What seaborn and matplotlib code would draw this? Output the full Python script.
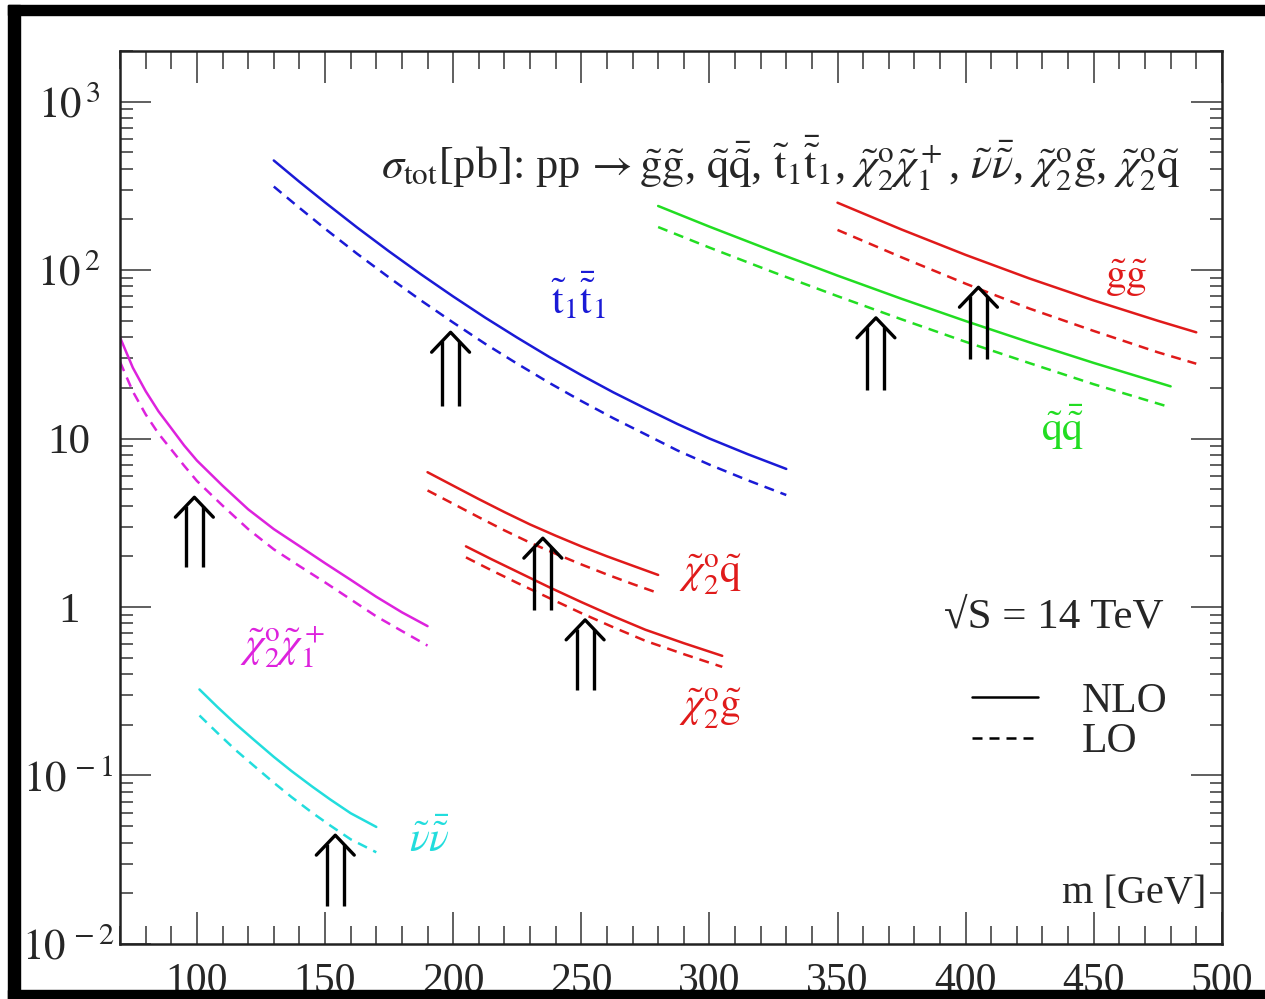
import numpy as np
import pandas as pd
import seaborn as sns
import matplotlib.pyplot as plt
from matplotlib.lines import Line2D
from matplotlib.patches import Rectangle
from matplotlib.ticker import FixedLocator, FixedFormatter, MultipleLocator, LogLocator, NullFormatter

# cross sections [pb], NLO (solid) and LO (dashed)
m_chi2chi1 = [70, 75, 80, 85, 90, 95, 100, 110, 120, 130, 140, 150, 160, 170, 180, 190]
nlo_chi2chi1 = [39.8, 26.3, 19.1, 14.5, 11.5, 9.1, 7.4, 5.25, 3.8, 2.9, 2.3, 1.82, 1.45, 1.15, 0.93, 0.77]
lo_chi2chi1 = [28.5, 19.0, 13.9, 10.7, 8.6, 6.9, 5.6, 4.0, 2.9, 2.2, 1.75, 1.4, 1.11, 0.88, 0.72, 0.59]

m_stop = [130, 140, 150, 162.5, 175, 187.5, 200, 212.5, 225, 237.5, 250, 262.5, 275, 287.5, 300, 315, 330]
nlo_stop = [447, 334, 252, 179, 129, 94.2, 69.7, 52.2, 39.7, 30.5, 23.8, 18.8, 15.1, 12.2, 10.0, 8.07, 6.6]
lo_stop = [313, 234, 176, 125, 90.3, 65.9, 48.8, 36.5, 27.8, 21.4, 16.7, 13.2, 10.6, 8.5, 7.0, 5.65, 4.62]

m_sqsq = [280, 300, 325, 350, 375, 400, 425, 450, 480]
nlo_sqsq = [240, 181, 129, 92.7, 67.5, 49.8, 37.2, 28.1, 20.4]
lo_sqsq = [180, 136, 97, 70, 51, 37.5, 28, 21, 15.3]

m_gg = [350, 375, 400, 425, 450, 475, 490]
nlo_gg = [251, 174, 123, 89, 66, 50, 42.7]
lo_gg = [173, 119, 83, 59, 43.5, 32.5, 27.8]

m_chi2sq = [190, 200, 210, 220, 230, 240, 250, 260, 270, 280]
nlo_chi2sq = [6.31, 5.25, 4.37, 3.66, 3.09, 2.65, 2.29, 2.0, 1.76, 1.55]
lo_chi2sq = [4.92, 4.1, 3.41, 2.85, 2.41, 2.07, 1.79, 1.56, 1.37, 1.21]

m_chi2gl = [205, 215, 225, 237.5, 250, 262.5, 275, 290, 305]
nlo_chi2gl = [2.29, 1.92, 1.62, 1.31, 1.07, 0.881, 0.733, 0.61, 0.513]
lo_chi2gl = [1.97, 1.65, 1.39, 1.13, 0.92, 0.758, 0.63, 0.525, 0.441]

m_snu = [101, 108, 115, 122, 130, 137, 145, 152, 160, 170]
nlo_snu = [0.324, 0.255, 0.203, 0.164, 0.129, 0.106, 0.0859, 0.0721, 0.0597, 0.0495]
lo_snu = [0.227, 0.179, 0.142, 0.115, 0.0906, 0.0743, 0.0601, 0.0505, 0.0418, 0.0350]

# arrows: mass, tip, base
arrow_m = [99, 199, 365, 405, 235, 251.5, 154]
arrow_tip = [4.48, 42.7, 52, 79, 2.56, 0.838, 0.0442]
arrow_base = [1.73, 15.6, 19.5, 29.7, 0.96, 0.323, 0.0168]

ytick_vals = [1e-2, 1e-1, 1, 10, 1e2, 1e3]
ytick_labels = [r"$10^{\,-2}$", r"$10^{\,-1}$", "1", "10", r"$10^{\,2}$", r"$10^{\,3}$"]

colors = {"chi2chi1": "#dd22dd", "stop": "#1a1ad6", "sqsq": "#22dd22",
          "gg": "#e01a1a", "chi2sq": "#e01a1a", "chi2gl": "#e01a1a", "snu": "#22dddd"}

curves = {
    "chi2chi1": (m_chi2chi1, nlo_chi2chi1, lo_chi2chi1),
    "stop": (m_stop, nlo_stop, lo_stop),
    "sqsq": (m_sqsq, nlo_sqsq, lo_sqsq),
    "gg": (m_gg, nlo_gg, lo_gg),
    "chi2sq": (m_chi2sq, nlo_chi2sq, lo_chi2sq),
    "chi2gl": (m_chi2gl, nlo_chi2gl, lo_chi2gl),
    "snu": (m_snu, nlo_snu, lo_snu),
}
rows = []
for name, (ms, nlo, lo) in curves.items():
    for m, s in zip(ms, nlo):
        rows.append((name, "NLO", m, s))
    for m, s in zip(ms, lo):
        rows.append((name, "LO", m, s))
df = pd.DataFrame(rows, columns=["process", "order", "m", "sigma"])

sns.set_style("ticks")
plt.rcParams["font.family"] = ["Liberation Serif", "DejaVu Serif"]
plt.rcParams["mathtext.fontset"] = "stix"

fig = plt.figure(figsize=(12.65, 9.99), dpi=100)
ax = fig.add_axes([0.0949, 0.0551, 0.871, 0.894])

sns.lineplot(data=df, x="m", y="sigma", hue="process", style="order",
             palette=colors, dashes={"NLO": "", "LO": (4, 2.8)},
             estimator=None, sort=True, legend=False, linewidth=1.8, ax=ax)

ax.set_yscale("log")
ax.set_xlim(70, 500)
ax.set_ylim(1e-2, 2000)
ax.set_xlabel("")
ax.set_ylabel("")

ax.xaxis.set_major_locator(MultipleLocator(50))
ax.xaxis.set_minor_locator(MultipleLocator(10))
ax.yaxis.set_major_locator(FixedLocator(ytick_vals))
ax.yaxis.set_major_formatter(FixedFormatter(ytick_labels))
ax.yaxis.set_minor_locator(LogLocator(base=10, subs=np.arange(2, 10)))
ax.yaxis.set_minor_formatter(NullFormatter())

ax.tick_params(axis="both", which="both", direction="in", top=True, right=True,
               color="#444444", width=1.2)
ax.tick_params(axis="x", which="major", length=23, labelsize=30, pad=13)
ax.tick_params(axis="x", which="minor", length=13)
ax.tick_params(axis="y", which="major", length=22, labelsize=31, pad=37)
ax.tick_params(axis="y", which="minor", length=9)
plt.setp(ax.get_yticklabels(), ha="center")
for sp in ax.spines.values():
    sp.set_linewidth(1.8)
    sp.set_color("#222222")

# double-shafted arrows
for m, tip, base in zip(arrow_m, arrow_tip, arrow_base):
    meet = tip * 0.885
    ax.plot([m - 3.3, m - 3.3], [base, meet], color="black", lw=2.4, solid_capstyle="butt")
    ax.plot([m + 3.3, m + 3.3], [base, meet], color="black", lw=2.4, solid_capstyle="butt")
    ax.plot([m - 7.4, m, m + 7.4], [tip * 0.762, tip, tip * 0.762], color="black", lw=2.4)

fs = 30
ax.text(172, 430, r"$\sigma_{\rm tot}$[pb]: pp$\,\rightarrow\tilde{\rm g}\tilde{\rm g}$, "
        r"$\tilde{\rm q}\bar{\tilde{\rm q}}$, $\tilde{\rm t}_1\bar{\tilde{\rm t}}_1$, "
        r"$\tilde{\chi}^{\rm o}_2\tilde{\chi}^+_1$, $\tilde{\nu}\bar{\tilde{\nu}}$, "
        r"$\tilde{\chi}^{\rm o}_2\tilde{\rm g}$, $\tilde{\chi}^{\rm o}_2\tilde{\rm q}$",
        fontsize=32, ha="left", va="center")

ax.text(248.7, 70, r"$\tilde{\rm t}_1\bar{\tilde{\rm t}}_1$", color=colors["stop"], fontsize=fs, ha="center", va="center")
ax.text(462.8, 90, r"$\tilde{\rm g}\tilde{\rm g}$", color=colors["gg"], fontsize=fs, ha="center", va="center")
ax.text(437.8, 11.6, r"$\tilde{\rm q}\bar{\tilde{\rm q}}$", color=colors["sqsq"], fontsize=fs, ha="center", va="center")
ax.text(300.4, 1.55, r"$\tilde{\chi}^{\rm o}_2\tilde{\rm q}$", color=colors["chi2sq"], fontsize=fs, ha="center", va="center")
ax.text(300.4, 0.249, r"$\tilde{\chi}^{\rm o}_2\tilde{\rm g}$", color=colors["chi2gl"], fontsize=fs, ha="center", va="center")
ax.text(133.3, 0.58, r"$\tilde{\chi}^{\rm o}_2\tilde{\chi}^+_1$", color=colors["chi2chi1"], fontsize=fs, ha="center", va="center")
ax.text(190.8, 0.041, r"$\tilde{\nu}\bar{\tilde{\nu}}$", color=colors["snu"], fontsize=fs, ha="center", va="center")

ax.text(391.6, 0.873, "√S = 14 TeV", fontsize=31, ha="left", va="center")
ax.text(0.986, 0.057, "m [GeV]", transform=ax.transAxes, fontsize=29, ha="right", va="center")

handles = [Line2D([], [], color="black", lw=1.8),
           Line2D([], [], color="black", lw=1.8, dashes=(4, 2.8))]
ax.legend(handles, ["NLO", "LO"], loc="upper left", bbox_to_anchor=(0.773, 0.293),
          frameon=False, fontsize=fs, handlelength=1.6, handletextpad=1.05,
          labelspacing=0.05, borderpad=0, borderaxespad=0)

# black picture frame (top, left, bottom)
W, H = 1265, 999
for x0, y0, w, h in [(8, 0, 12, 994), (8, 984, W - 8, 10), (8, 0, W - 8, 9)]:
    fig.add_artist(Rectangle((x0 / W, y0 / H), w / W, h / H, transform=fig.transFigure,
                             color="black", zorder=10))

fig.savefig("out.png", dpi=100)
